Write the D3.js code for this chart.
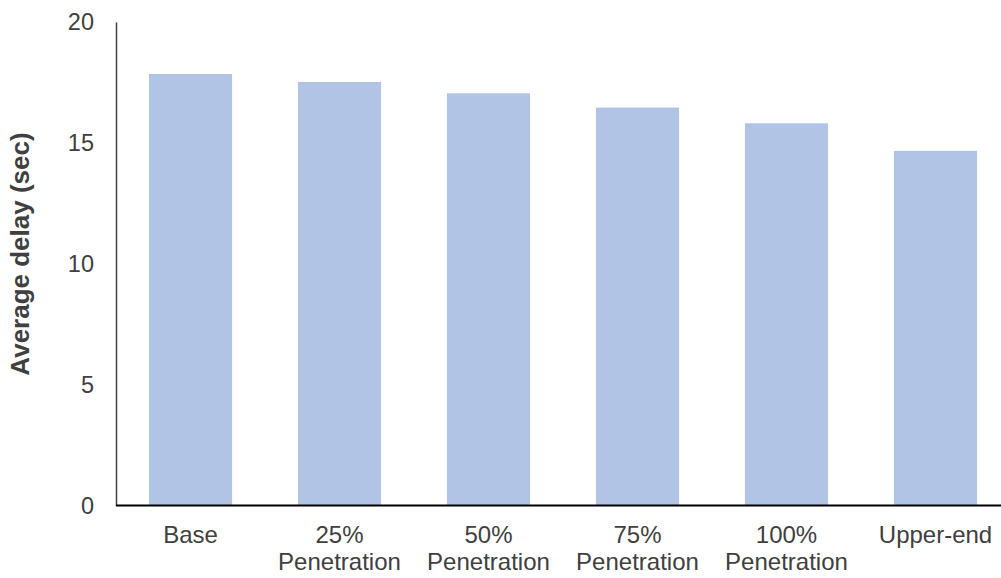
<!DOCTYPE html>
<html>
<head>
<meta charset="utf-8">
<script src="https://cdn.jsdelivr.net/npm/d3@7"></script>
<style>
  html, body { margin: 0; padding: 0; background: #fff; }
  svg { display: block; }
  text { font-family: "Liberation Sans", Arial, sans-serif; fill: #404040; }
</style>
</head>
<body>
<svg id="chart" width="1001" height="578"></svg>
<script>
// Average delay per scenario
const categories = ["Base", "25%\nPenetration", "50%\nPenetration", "75%\nPenetration", "100%\nPenetration", "Upper-end"];
const delays = [17.85, 17.52, 17.05, 16.46, 15.81, 14.67];
const yTicks = [0, 5, 10, 15, 20];

const svg = d3.select("#chart");
const plotLeft = 116, plotRight = 1010, plotTop = 22, plotBottom = 505.5;

const x = d3.scaleBand()
  .domain(categories)
  .range([plotLeft, plotRight])
  .paddingInner(0.442)
  .paddingOuter(0.221);

const y = d3.scaleLinear().domain([0, 20]).range([plotBottom, plotTop]);

// bars
svg.append("g")
  .selectAll("rect")
  .data(categories)
  .join("rect")
  .attr("x", d => x(d))
  .attr("width", x.bandwidth())
  .attr("y", (d, i) => y(delays[i]))
  .attr("height", (d, i) => plotBottom - y(delays[i]))
  .attr("fill", "#b1c4e6");

// y axis
const yAxis = svg.append("g")
  .attr("transform", `translate(${plotLeft},0)`)
  .call(d3.axisLeft(y).tickValues(yTicks).tickSize(0).tickPadding(22));
yAxis.select(".domain").attr("stroke", "#404040").attr("stroke-width", 1.5);
yAxis.selectAll("text")
  .attr("font-size", 23.5)
  .attr("font-family", "Liberation Sans, Arial, sans-serif")
  .attr("fill", "#404040");

// x axis baseline
svg.append("line")
  .attr("x1", plotLeft).attr("x2", 1001)
  .attr("y1", plotBottom).attr("y2", plotBottom)
  .attr("stroke", "#000").attr("stroke-width", 2);

// x category labels (may wrap over two lines)
const xl = svg.append("g")
  .selectAll("text")
  .data(categories)
  .join("text")
  .attr("text-anchor", "middle")
  .attr("font-size", 24)
  .attr("x", d => x(d) + x.bandwidth() / 2)
  .attr("y", 543);
xl.each(function(d) {
  const lines = d.split("\n");
  const t = d3.select(this);
  lines.forEach((ln, i) => {
    t.append("tspan")
      .attr("x", x(d) + x.bandwidth() / 2)
      .attr("dy", i === 0 ? 0 : 27)
      .text(ln);
  });
});

// y axis title
svg.append("text")
  .attr("transform", "translate(29,254) rotate(-90)")
  .attr("text-anchor", "middle")
  .attr("font-size", 26)
  .attr("font-weight", "bold")
  .attr("fill", "#000")
  .text("Average delay (sec)");
</script>
</body>
</html>
